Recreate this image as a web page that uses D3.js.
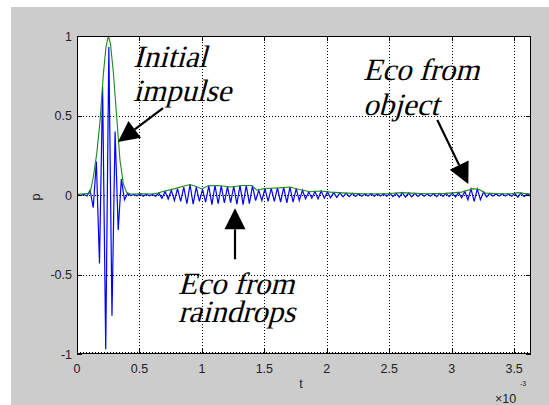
<!DOCTYPE html>
<html><head><meta charset="utf-8">
<script src="https://cdn.jsdelivr.net/npm/d3@7"></script>
<style>html,body{margin:0;padding:0;background:#fff;}svg{display:block;}</style>
</head><body>
<svg id="c" width="549" height="405"></svg>
<script>
// ---- data (t in ms, i.e. x10^-3 s) ----
const xTicks = [0, 0.5, 1, 1.5, 2, 2.5, 3, 3.5];
const xTickLabels = ["0", "0.5", "1", "1.5", "2", "2.5", "3", "3.5"];
const yTicks = [-1, -0.5, 0, 0.5, 1];
const yTickLabels = ["-1", "-0.5", "0", "0.5", "1"];
const tMax = 3.635;
// blue signal: sampled at successive half-periods of the carrier
const sigStart = 0.005, sigStep = 0.025;
const signalP = [
 0.003,-0.003,0.004,-0.006,0.03,-0.08,0.21,-0.43,0.68,-0.97,
 0.93,-0.76,0.40,-0.22,0.10,-0.03,0.01,-0.004,0.003,-0.005,
 0.008,-0.008,0.005,-0.005,0.004,-0.008,0.012,-0.02,0.022,-0.025,
 0.03,-0.035,0.04,-0.04,0.05,-0.055,0.066,-0.058,0.05,-0.04,
 0.035,-0.045,0.058,-0.06,0.06,-0.055,0.058,-0.05,0.052,-0.048,
 0.055,-0.058,0.06,-0.06,0.06,-0.055,0.058,-0.035,0.03,-0.035,
 0.04,-0.04,0.042,-0.04,0.045,-0.045,0.048,-0.05,0.05,-0.045,
 0.04,-0.035,0.03,-0.025,0.02,-0.02,0.022,-0.025,0.025,-0.02,
 0.018,-0.018,0.015,-0.015,0.013,-0.012,0.012,-0.01,0.01,-0.009,
 0.008,-0.008,0.007,-0.006,0.008,-0.008,0.007,-0.007,0.008,-0.008,
 0.01,-0.01,0.012,-0.014,0.015,-0.014,0.012,-0.012,0.01,-0.009,
 0.008,-0.008,0.007,-0.008,0.009,-0.01,0.01,-0.009,0.01,-0.01,
 0.012,-0.012,0.015,-0.018,0.022,-0.03,0.038,-0.04,0.038,-0.03,
 0.018,-0.012,0.01,-0.008,0.008,-0.007,0.007,-0.006,0.007,-0.008,
 0.01,-0.014,0.013,-0.01,0.008,-0.006
];
// green envelope
const envT = [0,0.104,0.130,0.158,0.184,0.211,0.232,0.251,0.268,0.291,0.318,0.344,0.371,0.398,0.43,0.52,0.6,0.65,0.68,0.785,0.85,0.905,0.95,1.0,1.05,1.12,1.185,1.225,1.33,1.40,1.44,1.5,1.545,1.62,1.705,1.78,1.865,1.95,2.03,2.16,2.29,2.48,2.6,2.68,2.79,2.95,3.08,3.13,3.17,3.22,3.27,3.4,3.48,3.53,3.6,3.635];
const envP = [0.005,0.01,0.11,0.26,0.46,0.76,0.93,1.0,0.95,0.77,0.49,0.22,0.07,0.015,0.006,0.008,0.006,0.012,0.02,0.04,0.055,0.066,0.055,0.038,0.058,0.06,0.055,0.05,0.06,0.06,0.03,0.04,0.042,0.045,0.05,0.035,0.02,0.025,0.018,0.012,0.008,0.008,0.015,0.012,0.008,0.01,0.018,0.03,0.04,0.035,0.012,0.008,0.008,0.015,0.008,0.008];
// annotations (data coordinates)
const noteLines = [
  {text:"Initial",  t:0.448, p:0.805},
  {text:"impulse",  t:0.448, p:0.590},
  {text:"Eco from", t:2.290, p:0.723},
  {text:"object",   t:2.290, p:0.503},
  {text:"Eco from", t:0.809, p:-0.623},
  {text:"raindrops",t:0.809, p:-0.800}
];
const arrows = [
  {t0:0.689, p0:0.547, t1:0.328, p1:0.333},
  {t0:2.885, p0:0.472, t1:3.133, p1:0.069},
  {t0:1.265, p0:-0.404, t1:1.265, p1:-0.084}
];

// ---- drawing ----
const svg = d3.select("#c");
const L = 77, R = 531, T = 36, B = 354;
const x = d3.scaleLinear().domain([0, tMax]).range([L, R]);
const y = d3.scaleLinear().domain([-1, 1]).range([B, T]);

svg.append("rect").attr("x", 11).attr("y", 7).attr("width", 538).attr("height", 398).attr("fill", "#cccccc");
svg.append("rect").attr("x", L).attr("y", T).attr("width", R - L).attr("height", B - T).attr("fill", "#ffffff");

// grid
const g = svg.append("g");
xTicks.filter(v => v > 0).forEach(v => {
  g.append("line").attr("x1", Math.round(x(v)) + 0.5).attr("x2", Math.round(x(v)) + 0.5)
    .attr("y1", T).attr("y2", B).attr("stroke", "#000").attr("stroke-width", 1).attr("stroke-dasharray", "1,2");
});
yTicks.filter(v => v > -1 && v < 1).forEach(v => {
  g.append("line").attr("y1", Math.round(y(v)) + 0.5).attr("y2", Math.round(y(v)) + 0.5)
    .attr("x1", L).attr("x2", R).attr("stroke", "#000").attr("stroke-width", 1).attr("stroke-dasharray", "1,2");
});
g.append("line").attr("y1", B - 1.5).attr("y2", B - 1.5).attr("x1", L).attr("x2", R)
  .attr("stroke", "#000").attr("stroke-dasharray", "1,2");

// signal
const sig = signalP.map((p, i) => [sigStart + i * sigStep, p]);
const line = d3.line().x(d => x(d[0])).y(d => y(d[1]));
svg.append("clipPath").attr("id", "pc").append("rect").attr("x", L).attr("y", T - 1).attr("width", R - L).attr("height", B - T + 2);
svg.append("path").datum(sig).attr("d", line).attr("fill", "none").attr("stroke", "#0000ff").attr("stroke-width", 1.2).attr("clip-path", "url(#pc)");
const env = envT.map((t, i) => [t, envP[i]]);
svg.append("path").datum(env).attr("d", line).attr("fill", "none").attr("stroke", "#1a8a1a").attr("stroke-width", 1.1).attr("clip-path", "url(#pc)");

// axes box
svg.append("rect").attr("x", L + 0.5).attr("y", T + 0.5).attr("width", R - L - 1).attr("height", B - T - 1)
  .attr("fill", "none").attr("stroke", "#000").attr("stroke-width", 1);

// ticks (inward, both sides)
const tl = 5;
xTicks.forEach(v => {
  const xx = Math.round(x(v)) + 0.5;
  svg.append("line").attr("x1", xx).attr("x2", xx).attr("y1", B).attr("y2", B - tl).attr("stroke", "#000");
  svg.append("line").attr("x1", xx).attr("x2", xx).attr("y1", T).attr("y2", T + tl).attr("stroke", "#000");
});
yTicks.forEach(v => {
  const yy = Math.round(y(v)) + 0.5;
  svg.append("line").attr("y1", yy).attr("y2", yy).attr("x1", L).attr("x2", L + tl).attr("stroke", "#000");
  svg.append("line").attr("y1", yy).attr("y2", yy).attr("x1", R).attr("x2", R - tl).attr("stroke", "#000");
});

const sans = "'Liberation Sans', Helvetica, Arial, sans-serif";
xTicks.forEach((v, i) => {
  svg.append("text").attr("x", x(v)).attr("y", 373).attr("text-anchor", "middle")
    .attr("font-family", sans).attr("font-size", 12.5).attr("fill", "#222").text(xTickLabels[i]);
});
yTicks.forEach((v, i) => {
  svg.append("text").attr("x", 72).attr("y", y(v) + 4.5).attr("text-anchor", "end")
    .attr("font-family", sans).attr("font-size", 12.5).attr("fill", "#222").text(yTickLabels[i]);
});
svg.append("text").attr("x", 301).attr("y", 388).attr("text-anchor", "middle")
  .attr("font-family", sans).attr("font-size", 12.5).attr("fill", "#222").text("t");
svg.append("text").attr("transform", "translate(40,197) rotate(-90)").attr("text-anchor", "middle")
  .attr("font-family", sans).attr("font-size", 12.5).attr("fill", "#222").text("p");
svg.append("text").attr("x", 495).attr("y", 403)
  .attr("font-family", sans).attr("font-size", 12.5).attr("fill", "#222").text("×10");
svg.append("text").attr("x", 520).attr("y", 386)
  .attr("font-family", sans).attr("font-size", 7).attr("fill", "#222").text("-3");

// annotations (Times-like serif, slanted)
noteLines.forEach(n => {
  svg.append("text").attr("transform", `translate(${x(n.t)},${y(n.p)}) skewX(-15)`)
    .style("font-family", "'Liberation Serif', serif")
    .style("font-style", "normal")
    .style("font-size", "31px").attr("fill", "#000").text(n.text);
});
arrows.forEach(a => {
  const x0 = x(a.t0), y0 = y(a.p0), x1 = x(a.t1), y1 = y(a.p1);
  const dx = x1 - x0, dy = y1 - y0, len = Math.hypot(dx, dy);
  const ux = dx / len, uy = dy / len;
  const hl = 21, hw = 10.5;
  const bx = x1 - ux * hl, by = y1 - uy * hl;
  svg.append("line").attr("x1", x0).attr("y1", y0).attr("x2", bx).attr("y2", by)
    .attr("stroke", "#000").attr("stroke-width", 2.2);
  svg.append("path").attr("d", d3.line()([[x1, y1], [bx - uy * hw, by + ux * hw], [bx + uy * hw, by - ux * hw]]) + "Z")
    .attr("fill", "#000");
});
</script>
</body></html>
